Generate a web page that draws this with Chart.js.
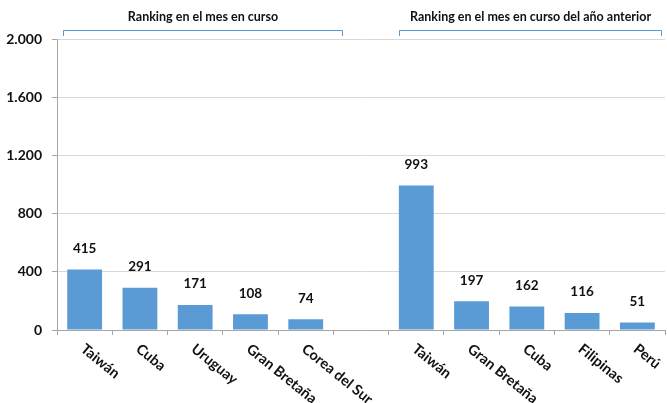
<!DOCTYPE html>
<html><head><meta charset="utf-8">
<script src="https://cdn.jsdelivr.net/npm/chart.js@4"></script>
<style>html,body{margin:0;padding:0;background:#fff}#w{width:667px;height:403px;position:relative}</style>
</head><body><div id="w"><canvas id="c"></canvas></div>
<script>
const categories = ["Taiwán","Cuba","Uruguay","Gran Bretaña","Corea del Sur","","Taiwán","Gran Bretaña","Cuba","Filipinas","Perú"];
const values = [415,291,171,108,74,null,993,197,162,116,51];
const yTicks = [0,400,800,1200,1600,2000];
const groupTitles = ["Ranking en el mes en curso","Ranking en el mes en curso del año anterior"];
const groupRanges = [[0,4],[6,10]];

const FONT = "Lato, 'Open Sans', sans-serif";
const BLUE = '#5B9BD5';

function fmt(v){ return String(v).replace(/\B(?=(\d{3})+(?!\d))/g,'.'); }

const overlay = {
  id:'overlay',
  afterDraw(chart){
    const ctx = chart.ctx, x = chart.scales.x, y = chart.scales.y;
    const meta = chart.getDatasetMeta(0);
    ctx.save();
    // value labels
    ctx.fillStyle = '#111';
    ctx.font = "bold 13.5px " + FONT;
    ctx.textAlign = 'center'; ctx.textBaseline = 'middle';
    meta.data.forEach((b,i)=>{
      if (values[i]==null) return;
      ctx.fillText(fmt(values[i]), b.x, b.y - 21);
    });
    // category labels rotated
    ctx.font = "bold 14.5px " + FONT;
    ctx.textAlign = 'left'; ctx.textBaseline = 'middle';
    categories.forEach((c,i)=>{
      if (!c) return;
      const px = x.getPixelForValue(i);
      ctx.save();
      ctx.translate(px - 2, y.bottom + 17);
      ctx.rotate(39*Math.PI/180);
      ctx.fillText(c, 0, 0);
      ctx.restore();
    });
    // brackets and titles
    const offs = [[-22,36],[-17,24]];
    ctx.strokeStyle = BLUE; ctx.lineWidth = 1;
    groupRanges.forEach((r,g)=>{
      const l = Math.round(x.getPixelForValue(r[0]) + offs[g][0]) + 0.5;
      const rr = Math.round(x.getPixelForValue(r[1]) + offs[g][1]) + 0.5;
      ctx.beginPath();
      ctx.moveTo(l, 36); ctx.lineTo(l, 30.5); ctx.lineTo(rr, 30.5); ctx.lineTo(rr, 36);
      ctx.stroke();
      ctx.fillStyle = '#111';
      ctx.font = "bold 12.5px " + FONT;
      ctx.textAlign = 'center'; ctx.textBaseline = 'middle';
      ctx.fillText(groupTitles[g], (l+rr)/2, 17);
    });
    ctx.restore();
  }
};

new Chart(document.getElementById('c'), {
  type:'bar',
  data:{ labels:categories, datasets:[{ data:values, backgroundColor:BLUE, borderWidth:0, barPercentage:0.63, categoryPercentage:1 }] },
  options:{
    responsive:true, maintainAspectRatio:false, animation:false,
    layout:{ padding:{ top:39, bottom:68, right:2, left:0 } },
    plugins:{ legend:{display:false}, tooltip:{enabled:false} },
    scales:{
      x:{
        grid:{ display:true, drawOnChartArea:false, drawTicks:true, tickLength:5, color:'#a6a6a6', offset:true },
        border:{ color:'#a6a6a6', width:1 },
        ticks:{ display:false }
      },
      y:{
        min:0, max:2000,
        afterBuildTicks(s){ s.ticks = yTicks.map(v=>({value:v})); },
        afterFit(s){ s.width = 57; },
        grid:{ color:'#d9d9d9', tickColor:'#a6a6a6', tickLength:5 },
        border:{ color:'#a6a6a6', width:1 },
        ticks:{ padding:10, color:'#111', font:{ family:FONT, size:14, weight:'bold' }, callback:v=>fmt(v) }
      }
    }
  },
  plugins:[overlay]
});
</script></body></html>
